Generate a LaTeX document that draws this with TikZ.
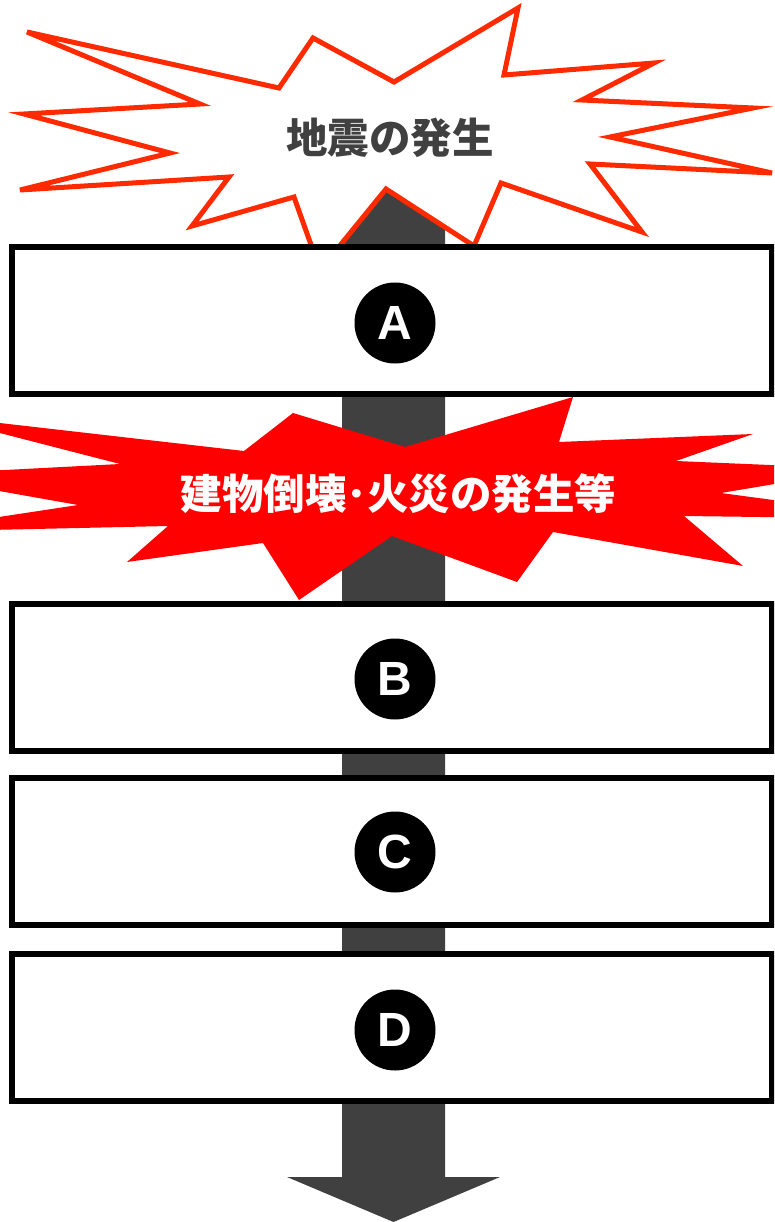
\documentclass[tikz,border=0pt]{standalone}
\usepackage{fontspec}
\newfontfamily\cjk{Noto Sans CJK JP}
\newfontfamily\lat{Liberation Sans}
\definecolor{arrowgrey}{HTML}{404040}
\definecolor{burstorange}{HTML}{FF2A00}
\definecolor{burstred}{HTML}{FF0000}
\tikzset{
  stagebox/.style={draw=black, fill=white, line width=6pt, inner sep=0pt, outer sep=0pt,
    minimum width=760pt, minimum height=147pt},
  badge/.style={circle, fill=black, text=white, inner sep=0pt, minimum size=81pt,
    font=\lat\bfseries\fontsize{48}{48}\selectfont},
  quakeburst/.style={draw=burstorange, fill=white, line width=5pt, line join=miter},
  damageburst/.style={fill=burstred},
}
\begin{document}
\begin{tikzpicture}[x=1pt,y=-1pt]
\useasboundingbox (0,0) rectangle (774,1222);
\clip (0,0) rectangle (774,1222);
% big downward arrow
\fill[arrowgrey] (342,150) -- (445,150) -- (445,1177) -- (500,1177) -- (393.5,1222)
  -- (287,1177) -- (342,1177) -- cycle;
% earthquake burst
\draw[quakeburst] (27,32) -- (279,88) -- (313,38) -- (394,82) -- (518,8) -- (504,75)
  -- (654,63) -- (582,100) -- (753,108) -- (610,137) -- (772,173) -- (590,164)
  -- (642,232) -- (501,183) -- (474,246) -- (386,189) -- (320,270) -- (294,197)
  -- (192,226) -- (229,177) -- (20,190) -- (170,153) -- (24,114) -- (200,104) -- cycle;
\node[text=arrowgrey, font=\cjk\bfseries\fontsize{41.5}{41.5}\selectfont] (quake) at (390,138) {地震の発生};
% boxes
\node[stagebox] (boxA) at (392,320.5) {};
\node[stagebox] (boxB) at (392,677) {};
\node[stagebox] (boxC) at (392,851.75) {};
\node[stagebox] (boxD) at (392,1027.5) {};
\node[badge] (cA) at (395,323) {A};
\node[badge] (cB) at (395,679) {B};
\node[badge] (cC) at (395,852) {C};
\node[badge] (cD) at (395,1030) {D};
% damage burst
\fill[damageburst] (-70,415) -- (244,451) -- (293,413) -- (405,447) -- (573,397)
  -- (559,442) -- (753,434) -- (676,461) -- (864,469) -- (721,493) -- (915,519)
  -- (684,516) -- (743,566) -- (553,532) -- (517,582) -- (392,536) -- (299,600)
  -- (263,543) -- (127,562) -- (168,526) -- (-100,532) -- (78,505) -- (-91,475)
  -- (120,464) -- cycle;
\node[text=white, font=\cjk\bfseries\fontsize{41.5}{41.5}\selectfont] (damage) at (398.5,493.5) {建物倒壊･火災の発生等};
\end{tikzpicture}
\end{document}
